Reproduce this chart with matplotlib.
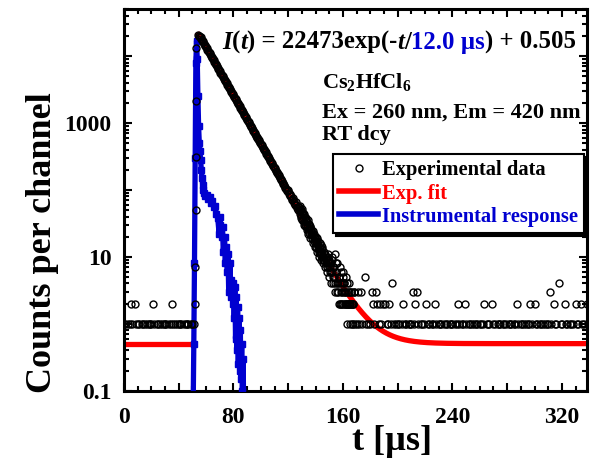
import numpy as np
import matplotlib
matplotlib.use("Agg")
import matplotlib.pyplot as plt
from matplotlib.lines import Line2D
from matplotlib.ticker import (FixedLocator, MultipleLocator, LogLocator,
                               FuncFormatter, NullFormatter)

plt.rcParams['font.family'] = 'Liberation Serif'
plt.rcParams['font.weight'] = 'bold'
plt.rcParams['mathtext.fontset'] = 'custom'
plt.rcParams['mathtext.rm'] = 'Liberation Serif:bold'
plt.rcParams['mathtext.it'] = 'Liberation Serif:bold:italic'
plt.rcParams['mathtext.bf'] = 'Liberation Serif:bold'

RED = '#ff0000'
BLUE = '#0000d0'

# --- fit parameters (from the annotation; t0) ---
fit_amp = 22473
fit_tau = 12.0
fit_offset = 0.505
fit_t0 = 53.3

# --- experimental data: counts per channel ---
# baseline before the pulse, 1 us channels starting at t = 0 (0 = empty channel)
pre_counts = "1101121021" "1101110111" "1210111011" "1101121101" "1110111101" "11"
# rising edge
rise_t = [52.1, 52.2, 52.3, 52.4, 52.6, 52.8]
rise_counts = [2, 7, 50, 310, 2150, 13000]
# main decay, 0.5 us channels starting at t = 54
decay_counts = [20400, 20300, 20100, 19600, 19000, 18200, 17500, 16800, 16100, 15400,
                14800, 14200, 13600, 13000, 12500, 12000, 11500, 11000, 10600, 10200,
                9770, 9370, 8990, 8620, 8270, 7930, 7610, 7300, 7000, 6710,
                6440, 6180, 5920, 5680, 5450, 5230, 5010, 4810, 4610, 4420,
                4250, 4080, 3910, 3750, 3590, 3440, 3310, 3170, 3040, 2920,
                2800, 2690, 2580, 2470, 2370, 2270, 2180, 2090, 2010, 1930,
                1850, 1770, 1700, 1630, 1560, 1500, 1440, 1380, 1320, 1270,
                1220, 1170, 1120, 1070, 1030, 990, 950, 910, 870, 835,
                800, 770, 740, 710, 680, 650, 625, 600, 575, 552,
                530, 508, 485, 468, 450, 430, 410, 395, 380, 365,
                350, 334, 320, 307, 295, 283, 272, 261, 250, 240,
                230, 221, 212, 203, 195, 187, 180, 173, 166, 159,
                152, 146, 140, 134, 129, 123, 118, 108, 112, 104,
                97, 101, 96, 87, 82, 88, 81, 74, 70, 77,
                69, 63, 59, 65, 60, 54, 50, 55]
# noisy tail, two interleaved sets of 0.5 us channels from t = 128 and t = 128.25
tail_counts = [55, 44, 50, 38, 47, 36, 42, 33, 40, 31,
               36, 28, 33, 26, 31, 23, 28, 21, 26, 19,
               24, 17, 22, 16, 20, 14, 19, 13, 17, 12,
               16, 11, 15, 10, 14, 9, 12, 9, 11, 8,
               10, 7, 11, 7, 9, 6, 8, 6, 9, 5,
               7, 5, 11, 4, 6, 4, 8, 3, 5, 2,
               7, 3, 4, 2, 6, 3, 4, 2, 5, 3,
               2, 3, 2, 4, 2, 1, 3, 2, 2, 1, 3]
tail2_counts = [48, 58, 41, 52, 35, 45, 30, 44, 29, 38,
                34, 25, 36, 22, 27, 29, 19, 25, 23, 16,
                21, 20, 14, 19, 17, 12, 16, 15, 10, 14,
                13, 9, 12, 13, 8, 10, 11, 7, 9, 10,
                6, 8, 9, 5, 7, 8, 4, 6, 10, 4,
                5, 7, 3, 6, 8, 3, 4, 5, 2, 4,
                6, 2, 3, 5, 2, 4, 2, 3, 2, 4,
                1, 2, 3, 2, 2, 3, 1, 2, 2, 3]
# baseline after the decay, 1 us channels starting at t = 169
post_counts = ("1131310511" "0132132121" "2021121410" "1110121101" "1131231011"
               "1021101121" "0111011101" "1101121011" "2101110111" "0111201110"
               "2110111011" "1011101121" "0111011121" "0211011101" "1131021104"
               "1102110111" "0211021102" "112")

# --- instrumental response ---
irf_t = [50.5, 51.0, 51.5, 52.0, 52.5, 53.0, 53.5, 54.0, 54.5, 55.0,
         55.5, 56.0, 56.5, 57.0, 57.5, 58.0, 58.5, 59.5, 60.5, 61.5,
         62.5, 63.5, 64.5, 65.5, 66.5, 67.5, 68.5, 69.5, 70.0, 70.5,
         71.5, 72.0, 72.5, 73.5, 74.0, 74.5, 75.5, 76.0, 76.5, 77.5,
         78.0, 78.5, 79.5, 80.0, 80.5, 81.0, 81.5, 82.0, 82.5, 83.0,
         83.5, 84.0, 84.5, 85.0, 85.5, 86.0, 86.5, 87.0, 87.5]
irf_counts = [0.05, 0.5, 8, 300, 8000, 17000, 9000, 2500, 900, 500,
              380, 280, 200, 150, 120, 100, 90, 80, 85, 72,
              78, 64, 68, 55, 58, 44, 38, 22, 40, 30,
              20, 28, 12, 20, 8, 14, 6, 11, 3, 8,
              2.5, 4.5, 2, 4, 1.2, 3.5, 0.6, 2.5, 0.4, 1.8,
              0.25, 1.2, 0.2, 0.8, 0.15, 0.5, 0.1, 0.3, 0.05]


def channels(counts, start, step):
    c = np.array([int(v) for v in counts], dtype=float)
    t = start + step * np.arange(len(c))
    keep = c > 0
    return t[keep], c[keep]


pre_t, pre_c = channels(pre_counts, 0.0, 1.0)
dec_t, dec_c = channels(decay_counts, 54.0, 0.5)
tail_t, tail_c = channels(tail_counts, 128.0, 0.5)
tail2_t, tail2_c = channels(tail2_counts, 128.25, 0.5)
post_t, post_c = channels(post_counts, 169.0, 1.0)
exp_t = np.concatenate([pre_t, rise_t, dec_t, tail_t, tail2_t, post_t])
exp_c = np.concatenate([pre_c, rise_counts, dec_c, tail_c, tail2_c, post_c])

# fit curve: flat offset before t0, single exponential after it
fit_t_pre = np.array([0.0, fit_t0])
fit_t_post = np.arange(fit_t0, 339, 0.25)
fit_y_post = fit_amp * np.exp(-(fit_t_post - fit_t0) / fit_tau) + fit_offset

fig = plt.figure(figsize=(5.94, 4.59), dpi=100)
ax = fig.add_axes([0.2088, 0.1488, 0.7795, 0.8309])

ax.plot(fit_t_pre, [fit_offset, fit_offset], color=RED, lw=3.8,
        solid_capstyle='butt', zorder=2)
ax.plot(fit_t_post, fit_y_post, color=RED, lw=3.8, solid_capstyle='butt', zorder=2)
ax.plot(irf_t, irf_counts, color=BLUE, lw=3.8, marker='s', ms=3.8, mec=BLUE,
        mfc=BLUE, zorder=3)
ax.plot(exp_t, exp_c, ls='none', marker='o', ms=5, mfc='none', mec='k',
        mew=1.0, zorder=4)

ax.set_yscale('log')
ax.set_xlim(0, 338.4)
ax.set_ylim(0.1, 50000)

ylabels = {0.1: '0.1', 10: '10', 1000: '1000'}
ax.yaxis.set_major_locator(FixedLocator([0.1, 1, 10, 100, 1000, 10000]))
ax.yaxis.set_major_formatter(FuncFormatter(
    lambda v, p: next((s for k, s in ylabels.items() if abs(v - k) < 1e-6 * k), '')))
ax.yaxis.set_minor_locator(LogLocator(base=10, subs=np.arange(2, 10), numticks=20))
ax.yaxis.set_minor_formatter(NullFormatter())

ax.xaxis.set_major_locator(MultipleLocator(40))
ax.xaxis.set_major_formatter(FuncFormatter(
    lambda v, p: f"{int(round(v))}" if int(round(v)) % 80 == 0 else ''))
ax.xaxis.set_minor_locator(MultipleLocator(10))

ax.tick_params(which='both', direction='in', top=True, right=True, width=1.5,
               labelsize=17)
ax.tick_params(which='major', length=6)
ax.tick_params(which='minor', length=3.5)
ax.tick_params(axis='x', pad=12)
ax.tick_params(axis='y', pad=9)
for sp in ax.spines.values():
    sp.set_linewidth(2.2)

ax.set_ylabel('Counts per channel', fontsize=26, fontweight='bold', va='center')
ax.yaxis.set_label_coords(-0.176, 0.387)
ax.set_xlabel('t [\u00b5s]', fontsize=26, fontweight='bold', va='center')
ax.xaxis.set_label_coords(0.578, -0.132)

# fit equation, drawn piece by piece for the mixed styles and colours
pieces = [("I", 'italic', 'k'), ("(", 'normal', 'k'), ("t", 'italic', 'k'),
          (") = 22473exp(-", 'normal', 'k'), ("t", 'italic', 'k'),
          ("/", 'normal', 'k'), ("12.0 \u00b5s", 'normal', BLUE),
          (") + 0.505", 'normal', 'k')]
fig.canvas.draw()
renderer = fig.canvas.get_renderer()
cur = 0.212
for s, style, col in pieces:
    txt = ax.text(cur, 0.896, s, transform=ax.transAxes, fontsize=17.8,
                  fontweight='bold', fontstyle=style, color=col,
                  ha='left', va='baseline')
    bb = txt.get_window_extent(renderer)
    cur = ax.transAxes.inverted().transform((bb.x1, bb.y0))[0]

ax.text(0.427, 0.794, r'$\mathrm{Cs_2HfCl_6}$', transform=ax.transAxes,
        fontsize=16, ha='left', va='baseline')
ax.text(0.427, 0.715, 'Ex = 260 nm, Em = 420 nm', transform=ax.transAxes,
        fontsize=16, fontweight='bold', ha='left', va='baseline')
ax.text(0.427, 0.657, 'RT dcy', transform=ax.transAxes,
        fontsize=16, fontweight='bold', ha='left', va='baseline')

handles = [Line2D([], [], ls='none', marker='o', ms=5, mfc='none', mec='k', mew=1.0),
           Line2D([], [], color=RED, lw=4),
           Line2D([], [], color=BLUE, lw=4)]
labels = ['Experimental data', 'Exp. fit', 'Instrumental response']
leg = ax.legend(handles, labels, loc='upper left', bbox_to_anchor=(0.451, 0.621),
                borderaxespad=0, prop={'family': 'Liberation Serif', 'weight': 'bold', 'size': 14.8},
                fancybox=False, edgecolor='k', framealpha=1,
                shadow={'color': 'k', 'alpha': 1}, handlelength=1.9,
                handletextpad=0.15, borderpad=0.32, labelspacing=0.15)
leg.get_frame().set_linewidth(1.5)
for txt, col in zip(leg.get_texts(), ['k', RED, BLUE]):
    txt.set_color(col)

fig.savefig('out.png', dpi=100)
